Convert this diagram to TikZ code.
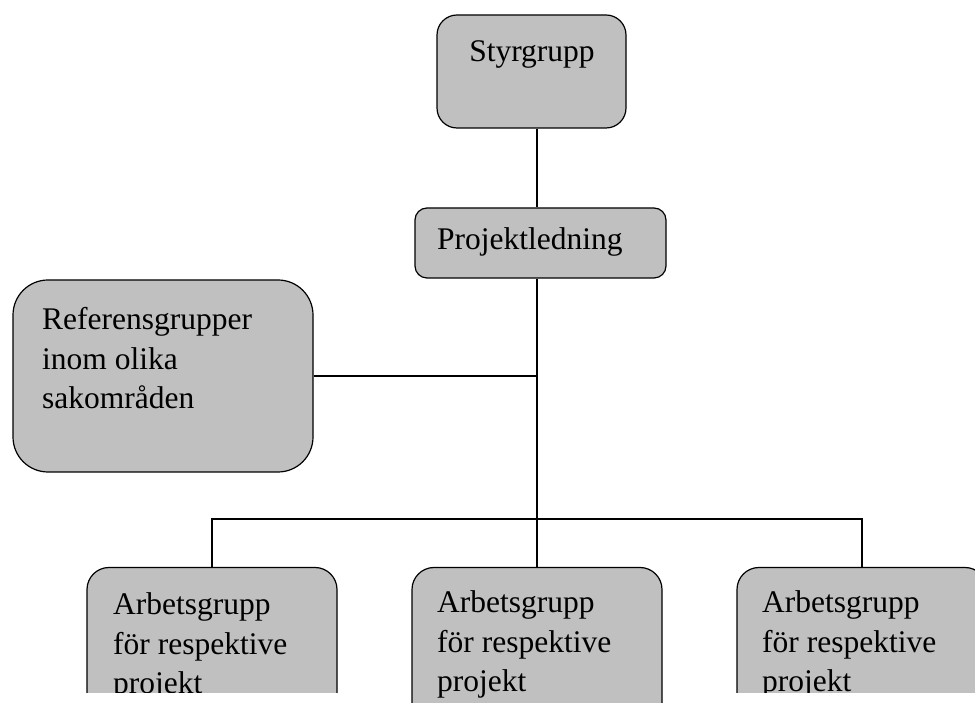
\documentclass[tikz,border=0pt]{standalone}
\usepackage{fontspec}
\setmainfont{Liberation Serif}
\definecolor{boxgray}{RGB}{192,192,192}
\begin{document}
\begin{tikzpicture}[x=1pt, y=1pt,
        orgbox/.style={draw, fill=boxgray, line width=1.2pt, inner sep=0pt},
        arbbox/.style={minimum width=250pt, minimum height=160pt, rounded corners=22pt},
        lbl/.style={font=\fontsize{31.5}{39.5}\selectfont, inner sep=0pt, align=left, anchor=base west},
        conn/.style={line width=1.8pt}]
        \useasboundingbox (0, 0) rectangle (975, 704);
        \node[orgbox, minimum width=189pt, minimum height=113pt, rounded corners=20pt] (styr) at (531.5, 632.5) {};
        \node[lbl, anchor=base] (styrtxt) at (532, 642) {Styrgrupp};
        \node[orgbox, minimum width=251pt, minimum height=70pt, rounded corners=12pt] (proj) at (540.5, 461) {};
        \node[lbl] (projtxt) at (437, 454) {Projektledning};
        \node[orgbox, minimum width=300pt, minimum height=192pt, rounded corners=35pt] (ref) at (163, 328) {};
        \node[lbl] (reftxt) at (42, 295) {Referensgrupper\\inom olika\\sakområden};
        \coordinate (hub) at (537, 185);
        \begin{scope}
            \clip (0, 11) rectangle (975, 704);
            \node[orgbox, arbbox] (arb1) at (212, 56.5) {};
            \node[lbl] (arb1txt) at (113, 10) {Arbetsgrupp\\för respektive\\projekt};
            \node[orgbox, arbbox] (arb3) at (862, 56.5) {};
            \node[lbl] (arb3txt) at (762, 12) {Arbetsgrupp\\för respektive\\projekt};
        \end{scope}
        \begin{scope}
            \clip (0, 1) rectangle (975, 704);
            \node[orgbox, arbbox] (arb2) at (537, 56.5) {};
            \node[lbl] (arb2txt) at (437, 12) {Arbetsgrupp\\för respektive\\projekt};
        \end{scope}
        \draw[conn] (styr.south -| hub) -- (proj.north -| hub);
        \draw[conn] (proj.south -| hub) -- (hub);
        \draw[conn] (ref.east) -- (ref.east -| hub);
        \draw[conn] (arb1.north) |- (hub) -| (arb3.north);
        \draw[conn] (hub) -- (arb2.north);
    \end{tikzpicture}
\end{document}
